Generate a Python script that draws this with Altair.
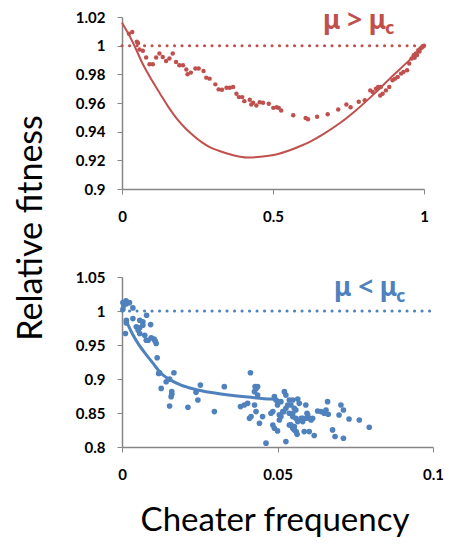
import altair as alt
import pandas as pd

RED = "#C0504D"
BLUE = "#4F81BD"
AXIS_GREY = "#868686"
TICK_FONT = "Lato"
TITLE_FONT = "Lato"
GREEK_FONT = "Noto Sans"

# ---- upper panel: mu > mu_c, cheater frequency 0..1 ----
upper_dot_x = [0.023, 0.034, 0.049, 0.053, 0.058, 0.069, 0.080, 0.091, 0.102, 0.113,
               0.124, 0.135, 0.146, 0.157, 0.168, 0.179, 0.190, 0.202, 0.213, 0.217,
               0.228, 0.243, 0.254, 0.270, 0.279, 0.290, 0.309, 0.320, 0.331, 0.346,
               0.357, 0.368, 0.379, 0.387, 0.398, 0.405, 0.423, 0.428, 0.434, 0.445,
               0.456, 0.467, 0.486, 0.501, 0.512, 0.519, 0.527, 0.567, 0.608, 0.616,
               0.646, 0.681, 0.716, 0.743, 0.757, 0.784, 0.804, 0.822, 0.830, 0.841,
               0.848, 0.857, 0.855, 0.863, 0.874, 0.885, 0.896, 0.904, 0.913, 0.924,
               0.932, 0.944, 0.951, 0.959, 0.966, 0.969, 0.973, 0.977, 0.981, 0.985,
               0.988, 0.992, 0.996, 1.0]
upper_dot_y = [1.0084, 1.0096, 1.0027, 1.0019, 0.9973, 0.9964, 0.9917, 0.9870, 0.9870, 0.9917,
               0.9945, 0.9921, 0.9893, 0.9910, 0.9945, 0.9886, 0.9863, 0.9863, 0.9833, 0.9800,
               0.9812, 0.9840, 0.9840, 0.9823, 0.9777, 0.9770, 0.9730, 0.9695, 0.9693, 0.9707,
               0.9707, 0.9711, 0.9665, 0.9641, 0.9641, 0.9613, 0.9622, 0.9589, 0.9601, 0.9582,
               0.9606, 0.9601, 0.9594, 0.9566, 0.9571, 0.9566, 0.9547, 0.9514, 0.9496, 0.9486,
               0.9504, 0.9522, 0.9555, 0.9590, 0.9570, 0.9608, 0.9620, 0.9688, 0.9676, 0.9700,
               0.9711, 0.9711, 0.9653, 0.9665, 0.9688, 0.9711, 0.9758, 0.9770, 0.9781, 0.9805,
               0.9816, 0.9828, 0.9875, 0.9910, 0.9933, 0.9915, 0.9945, 0.9935, 0.9968, 0.9960,
               0.9980, 0.9985, 0.9992, 1.0]
upper_fit_x = [0.0, 0.032, 0.071, 0.099, 0.126, 0.154, 0.182, 0.209, 0.237, 0.265,
               0.292, 0.320, 0.348, 0.375, 0.414, 0.459, 0.486, 0.514, 0.558, 0.591,
               0.625, 0.668, 0.723, 0.778, 0.834, 0.889, 0.945, 1.0]
upper_fit_y = [1.016, 1.004, 0.9863, 0.9758, 0.9665, 0.9571, 0.9489, 0.9426, 0.9372, 0.9325,
               0.929, 0.9267, 0.9248, 0.9232, 0.922, 0.9225, 0.9232, 0.9243, 0.9272, 0.9300,
               0.9333, 0.9385, 0.9462, 0.9555, 0.9662, 0.9775, 0.9885, 1.0]
upper_x_ticks = [0, 0.5, 1]
upper_y_ticks = [0.9, 0.92, 0.94, 0.96, 0.98, 1.0, 1.02]

# ---- lower panel: mu < mu_c, cheater frequency 0..0.1 ----
lower_dot_x = [0.0003, 0.0014, 0.0024, 0.0013, 0.0006, 0.0003, 0.0035, 0.0079, 0.0014, 0.0014,
               0.0035, 0.0057, 0.0067, 0.0046, 0.0057, 0.0067, 0.0057, 0.0073, 0.0092, 0.0078,
               0.0094, 0.0103, 0.0110, 0.0011, 0.0052, 0.0084, 0.0107, 0.0113, 0.0118, 0.0121,
               0.0126, 0.0142, 0.0153, 0.0160, 0.0158, 0.0153, 0.0167, 0.0160, 0.0212, 0.0238,
               0.0244, 0.0252, 0.0297, 0.0329, 0.0381, 0.0393, 0.0404, 0.0410, 0.0415, 0.0413,
               0.0431, 0.0436, 0.0442, 0.0428, 0.0436, 0.0426, 0.0426, 0.0431, 0.0452, 0.0490,
               0.0495, 0.0500, 0.0485, 0.0511, 0.0522, 0.0527, 0.0538, 0.0549, 0.0527, 0.0517,
               0.0511, 0.0506, 0.0538, 0.0549, 0.0538, 0.0559, 0.0565, 0.0554, 0.0485, 0.0490,
               0.0500, 0.0463, 0.0527, 0.0543, 0.0554, 0.0565, 0.0570, 0.0559, 0.0549, 0.0554,
               0.0563, 0.0581, 0.0591, 0.0595, 0.0602, 0.0608, 0.0613, 0.0586, 0.0602, 0.0618,
               0.0629, 0.0640, 0.0650, 0.0656, 0.0663, 0.0661, 0.0677, 0.0685, 0.0698, 0.0704,
               0.0712, 0.0712, 0.0730, 0.0763, 0.0795,
               0.0479, 0.0501, 0.0506, 0.0520, 0.0533, 0.0543, 0.0549, 0.0560, 0.0576, 0.0581,
               0.0597, 0.0592]
lower_dot_y = [1.0123, 1.0108, 1.0123, 1.0148, 1.0084, 1.0025, 1.0045, 0.9937, 0.9864, 0.9825,
               0.9889, 0.9864, 0.9840, 0.9767, 0.9752, 0.9790, 0.9669, 0.9644, 0.9800, 0.9570,
               0.9606, 0.9586, 0.9522, 0.9669, 0.9717, 0.9570, 0.9556, 0.9312, 0.9082, 0.9092,
               0.8862, 0.8960, 0.8999, 0.8774, 0.8740, 0.8603, 0.9092, 0.8814, 0.8584, 0.8804,
               0.8691, 0.8911, 0.8521, 0.8887, 0.8594, 0.8618, 0.8642, 0.8422, 0.8447, 0.9092,
               0.8862, 0.8764, 0.8349, 0.8887, 0.8887, 0.8814, 0.8618, 0.8521, 0.8447, 0.8740,
               0.8691, 0.8618, 0.8521, 0.8667, 0.8814, 0.8764, 0.8691, 0.8691, 0.8569, 0.8521,
               0.8447, 0.8397, 0.8496, 0.8447, 0.8324, 0.8422, 0.8374, 0.8251, 0.8324, 0.8276,
               0.8236, 0.8056, 0.8080, 0.8618, 0.8569, 0.8706, 0.8642, 0.8544, 0.8496, 0.8300,
               0.8188, 0.8422, 0.8618, 0.8496, 0.8422, 0.8397, 0.8422, 0.8227, 0.8227, 0.8169,
               0.8530, 0.8521, 0.8496, 0.8544, 0.8481, 0.8667, 0.8251, 0.8154, 0.8471, 0.8618,
               0.8544, 0.8129, 0.8412, 0.8397, 0.8290,
               0.8496, 0.8667, 0.8472, 0.8520, 0.8618, 0.8325, 0.8276, 0.8227, 0.8423, 0.8374,
               0.8472, 0.8423]
lower_fit_x = [0.0015, 0.0035, 0.0052, 0.0079, 0.0100, 0.0126, 0.0158, 0.0190, 0.0233, 0.0287,
               0.0351, 0.0415, 0.0479, 0.0500]
lower_fit_y = [0.984, 0.965, 0.952, 0.935, 0.923, 0.908, 0.898, 0.891, 0.885, 0.880,
               0.876, 0.873, 0.8705, 0.870]
lower_x_ticks = [0, 0.05, 0.1]
lower_y_ticks = [0.8, 0.85, 0.9, 0.95, 1.0, 1.05]

neutral_level = 1.0


def panel(dot_x, dot_y, fit_x, fit_y, x_dom, y_dom, x_ticks, y_ticks,
          color, dot_size, fit_width, w, h, label_main, label_pos, sub_pos):
    xe = alt.X("x:Q", scale=alt.Scale(domain=x_dom, nice=False, zero=False),
               axis=alt.Axis(values=x_ticks, format="~g", title=None, labelFlush=False))
    ye = alt.Y("y:Q", scale=alt.Scale(domain=y_dom, nice=False, zero=False),
               axis=alt.Axis(values=y_ticks, format="~g", title=None, labelFlush=False))
    dots = pd.DataFrame({"x": dot_x, "y": dot_y})
    fit = pd.DataFrame({"x": fit_x, "y": fit_y})
    ref = pd.DataFrame({"x": [x_dom[0]], "x2": [x_dom[1]], "y": [neutral_level]})
    note = pd.DataFrame({"main": [label_main], "sub": ["c"]})

    ref_line = alt.Chart(ref).mark_rule(
        color=color, strokeWidth=3, strokeDash=[0.1, 7.4], strokeCap="round"
    ).encode(x=xe, x2="x2:Q", y=ye)
    fit_line = alt.Chart(fit).mark_line(
        color=color, strokeWidth=fit_width, interpolate="monotone"
    ).encode(x=xe, y=ye)
    pts = alt.Chart(dots).mark_circle(
        color=color, size=dot_size, opacity=1
    ).encode(x=xe, y=ye)
    main = alt.Chart(note).mark_text(
        color=color, font=GREEK_FONT, fontWeight="bold",
        fontSize=26, align="left", baseline="alphabetic"
    ).encode(text="main:N", x=alt.value(label_pos[0]), y=alt.value(label_pos[1]))
    sub = alt.Chart(note).mark_text(
        color=color, font=GREEK_FONT, fontWeight="bold",
        fontSize=18, align="left", baseline="alphabetic"
    ).encode(text="sub:N", x=alt.value(sub_pos[0]), y=alt.value(sub_pos[1]))
    return alt.layer(ref_line, fit_line, pts, main, sub).properties(width=w, height=h)


upper = panel(upper_dot_x, upper_dot_y, upper_fit_x, upper_fit_y, [0, 1], [0.9, 1.02],
              upper_x_ticks, upper_y_ticks, RED, 20, 2, 302, 172,
              "\u03bc > \u03bc", (201, 12), (263, 17))
lower = panel(lower_dot_x, lower_dot_y, lower_fit_x, lower_fit_y, [0, 0.1], [0.8, 1.05],
              lower_x_ticks, lower_y_ticks, BLUE, 32, 3, 311, 170,
              "\u03bc < \u03bc", (212, 19), (274, 25))

y_title = alt.Chart(pd.DataFrame({"t": ["Relative fitness"]})).mark_text(
    font=TITLE_FONT, fontSize=34, angle=270, align="center", baseline="alphabetic",
    color="black"
).encode(text="t:N", x=alt.value(-80), y=alt.value(211))
x_title = alt.Chart(pd.DataFrame({"t": ["Cheater frequency"]})).mark_text(
    font=TITLE_FONT, fontSize=33, align="center", baseline="alphabetic", color="black"
).encode(text="t:N", x=alt.value(153), y=alt.value(254))

chart = alt.vconcat(
    alt.layer(upper, y_title),
    alt.layer(lower, x_title),
    spacing=88, bounds="flush"
).properties(
    padding={"left": 15, "top": 8, "right": 5, "bottom": 5}
).configure_view(stroke=None).configure_axis(
    grid=False, domainColor=AXIS_GREY, domainWidth=1.5, tickColor=AXIS_GREY,
    tickSize=5, tickWidth=1, labelFont=TICK_FONT, labelFontWeight="bold",
    labelFontSize=15, labelColor="black"
).configure_axisX(labelPadding=15).configure_axisY(labelPadding=12)

chart.save("out.html", embed_options={"renderer": "svg", "actions": False})
